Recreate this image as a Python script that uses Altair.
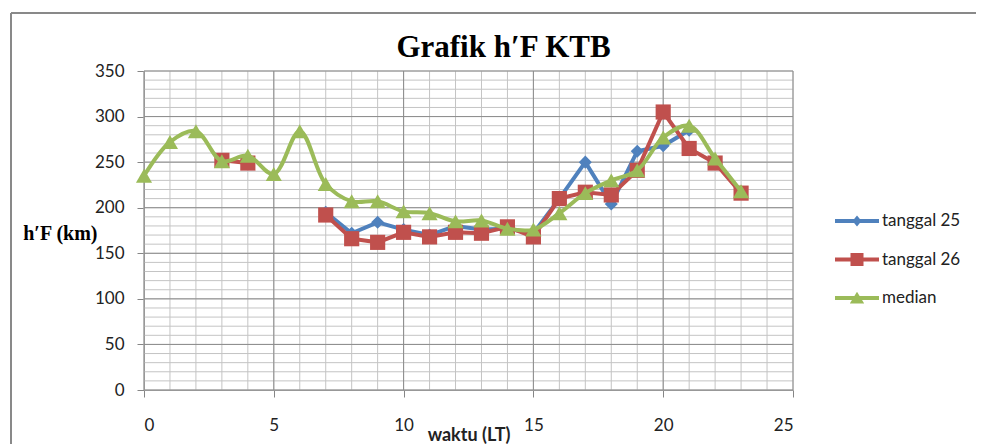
import altair as alt
import pandas as pd

hours = list(range(24))
tanggal25 = [None, None, None, None, None, None, None, 195, 172, 184, 176, 170, 180, 176,
             177, 172, 210, 250, 204, 262, 268, 285, None, None]
tanggal26 = [None, None, None, 252, 249, None, None, 192, 166, 162, 173, 168, 173, 172,
             179, 168, 210, 217, 214, 241, 305, 265, 249, 216]
median = [235, 272, 284, 251, 257, 237, 284, 226, 207, 207, 196, 194, 185, 186,
          177, 176, 194, 216, 230, 241, 277, 290, 254, 218]

series_names = ["tanggal 25", "tanggal 26", "median"]
series_values = [tanggal25, tanggal26, median]
series_colors = ["#4F81BD", "#C0504D", "#9BBB59"]
series_shapes = ["diamond", "square", "triangle-up"]
series_sizes = [170, 230, 260]
series_interp = ["linear", "linear", "catmull-rom"]

x_ticks = [0, 5, 10, 15, 20, 25]
y_ticks = [0, 50, 100, 150, 200, 250, 300, 350]
x_minor = list(range(0, 26))
y_minor = list(range(0, 351, 10))

legend_paths = [
    "M-2.2,-0.2H2.2V0.2H-2.2Z M0,-0.55L0.45,0L0,0.55L-0.45,0Z",
    "M-2.2,-0.2H2.2V0.2H-2.2Z M-0.65,-0.65H0.65V0.65H-0.65Z",
    "M-2.2,-0.2H2.2V0.2H-2.2Z M0,-0.62L0.72,0.55H-0.72Z",
]

xscale = alt.Scale(domain=[0, 25], nice=False, zero=False)
yscale = alt.Scale(domain=[0, 350], nice=False, zero=False)

xaxis = alt.Axis(values=x_ticks, grid=False, domainColor="#868686", tickColor="#868686",
                 tickSize=7, labelFont="Lato", labelFontSize=17, labelColor="#222222",
                 labelPadding=20, title="waktu (LT)", titleFont="Lato", titleFontSize=18,
                 titleFontWeight="bold", titleColor="#222222", titleY=50,
                 titleBaseline="alphabetic")
yaxis = alt.Axis(values=y_ticks, grid=False, domainColor="#868686", tickColor="#868686",
                 tickSize=7, labelFont="Lato", labelFontSize=17, labelColor="#222222",
                 labelPadding=13, title="h\u2032F (km)", titleFont="Liberation Serif",
                 titleFontSize=20, titleFontWeight="bold", titleColor="#000000",
                 titleAngle=0, titleX=-47, titleY=162, titleAlign="right",
                 titleBaseline="middle")

X = alt.X("x:Q", scale=xscale, axis=xaxis)
Y = alt.Y("y:Q", scale=yscale, axis=yaxis)

layers = []
# grid
layers.append(alt.Chart(pd.DataFrame({"x": x_minor})).mark_rule(color="#c4c4c4", strokeWidth=1).encode(x=X))
layers.append(alt.Chart(pd.DataFrame({"y": y_minor})).mark_rule(color="#c4c4c4", strokeWidth=1).encode(y=Y))
layers.append(alt.Chart(pd.DataFrame({"x": x_ticks})).mark_rule(color="#8c8c8c", strokeWidth=1).encode(x=X))
layers.append(alt.Chart(pd.DataFrame({"y": y_ticks})).mark_rule(color="#8c8c8c", strokeWidth=1).encode(y=Y))

for name, vals, col, shp, sz, interp in zip(series_names, series_values, series_colors,
                                            series_shapes, series_sizes, series_interp):
    rows = []
    seg = 0
    prev = None
    for h, v in zip(hours, vals):
        if v is None:
            prev = None
            continue
        if prev is None:
            seg += 1
        rows.append({"x": h, "y": v, "seg": seg})
        prev = v
    d = pd.DataFrame(rows)
    base = alt.Chart(d)
    layers.append(base.mark_line(color=col, strokeWidth=4, interpolate=interp).encode(
        x=X, y=Y, detail="seg:N"))
    layers.append(base.mark_point(filled=True, opacity=1, color=col, shape=shp, size=sz).encode(
        x=X, y=Y))

legend = alt.Legend(title=None, orient="none", legendX=703, legendY=140, padding=0,
                    symbolSize=400, symbolStrokeWidth=0, labelFont="Lato",
                    labelFontSize=17, labelColor="#222222", labelOffset=15,
                    rowPadding=20.5, symbolOpacity=1)
legend_layer = alt.Chart(pd.DataFrame({"series": series_names})).transform_filter(
    "false").mark_point(filled=True, opacity=1).encode(
    color=alt.Color("series:N", scale=alt.Scale(domain=series_names, range=series_colors),
                    legend=legend),
    shape=alt.Shape("series:N", scale=alt.Scale(domain=series_names, range=legend_paths),
                    legend=legend),
)
layers.append(legend_layer)

# outer chart frame
layers.append(alt.Chart(pd.DataFrame({"a": [0]})).mark_rule(color="#898989", strokeWidth=2).encode(
    x=alt.value(-133), x2=alt.value(860), y=alt.value(-58)))
layers.append(alt.Chart(pd.DataFrame({"a": [0]})).mark_rule(color="#898989", strokeWidth=2).encode(
    x=alt.value(-133), y=alt.value(-58), y2=alt.value(400)))

chart = alt.layer(*layers).properties(
    width=649, height=319,
    title=alt.TitleParams("Grafik h\u2032F KTB", font="Liberation Serif", fontSize=31,
                          fontWeight="bold", color="#000000", dx=35, dy=86, offset=10,
                          baseline="alphabetic", anchor="middle"),
    autosize=alt.AutoSizeParams(type="none"),
    padding={"left": 136, "top": 63, "right": 183, "bottom": 54},
    background="white",
).configure_view(stroke=None)

chart.save("out.html", embed_options={"renderer": "svg", "actions": False})
